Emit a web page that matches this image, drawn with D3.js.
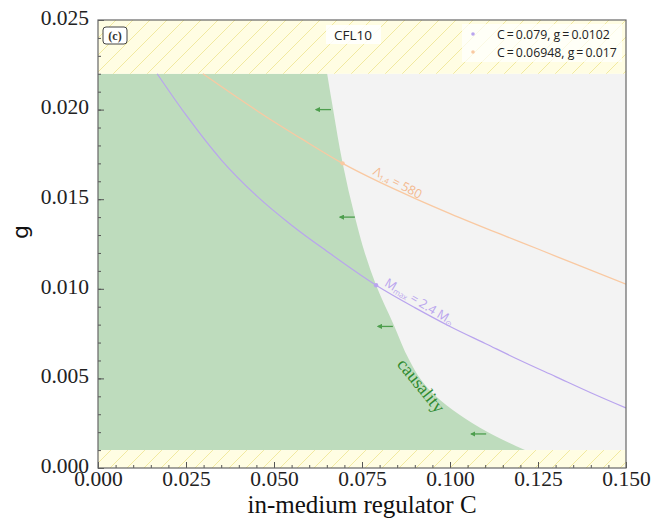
<!DOCTYPE html>
<html>
<head>
<meta charset="utf-8">
<script src="https://cdn.jsdelivr.net/npm/d3@7"></script>
<style>
  body { margin: 0; background: #fff; }
</style>
</head>
<body>
<div id="chart"></div>
<script>
// causality boundary (g -> C)
let causality_g = [0.022, 0.020, 0.017, 0.014, 0.012, 0.0102, 0.008, 0.006, 0.005, 0.004, 0.003, 0.002, 0.001];
let causality_C = [0.0651, 0.0668, 0.0695, 0.0730, 0.0758, 0.0790, 0.0840, 0.0885, 0.0915, 0.0960, 0.1025, 0.1108, 0.1213];

// M_max = 2.4 Msun curve
let mmax_C = [0.0168, 0.025, 0.035, 0.045, 0.055, 0.065, 0.079, 0.090, 0.100, 0.110, 0.120, 0.130, 0.140, 0.150];
let mmax_g = [0.0220, 0.0197, 0.0172, 0.0152, 0.01355, 0.0121, 0.0102, 0.00895, 0.0079, 0.00695, 0.0060, 0.0051, 0.0042, 0.00335];

// Lambda_1.4 = 580 curve
let lam_C = [0.0298, 0.040, 0.050, 0.0574, 0.06948, 0.080, 0.090, 0.100, 0.1142, 0.125, 0.135, 0.150];
let lam_g = [0.0220, 0.02062, 0.01932, 0.01842, 0.0170, 0.01595, 0.01505, 0.0142, 0.01306, 0.01222, 0.01143, 0.01026];

// little arrows pointing into the allowed side
let arrow_C = [0.0639, 0.0707, 0.0815, 0.1080];
let arrow_g = [0.0200, 0.0140, 0.0079, 0.0019];

// marked points (legend)
let point_C = [0.079, 0.06948];
let point_g = [0.0102, 0.017];
let point_labels = ["C\u2009=\u20090.079,  g\u2009=\u20090.0102", "C\u2009=\u20090.06948,  g\u2009=\u20090.017"];

let xticks = [0, 0.025, 0.05, 0.075, 0.1, 0.125, 0.15];
let yticks = [0, 0.005, 0.01, 0.015, 0.02, 0.025];
let band_top = [0.022, 0.025];
let band_bottom = [0, 0.001];

let w = 653;
let h = 520;
let m_left = 98, m_right = 626, m_top = 20, m_bottom = 468;

const purple = "#b9a4ee";
const orange = "#f9c9a2";
const green_fill = "#bedcbd";
const arrow_col = "#4d9e4d";
const serif = "'Liberation Serif', 'DejaVu Serif', serif";
const sans = "'Open Sans', 'DejaVu Sans', sans-serif";

const x_scale = d3.scaleLinear().domain([0, 0.15]).range([m_left, m_right]);
const y_scale = d3.scaleLinear().domain([0, 0.025]).range([m_bottom, m_top]);

const svg = d3.select("#chart")
      .append("svg")
      .attr("width", w)
      .attr("height", h);

const defs = svg.append("defs");
const hatch = defs.append("pattern")
      .attr("id", "hatch")
      .attr("patternUnits", "userSpaceOnUse")
      .attr("width", 17)
      .attr("height", 17);
hatch.append("rect").attr("width", 17).attr("height", 17).attr("fill", "#fffde3");
hatch.append("path")
  .attr("d", "M0,17 L17,0 M-4,4 L4,-4 M13,21 L21,13")
  .attr("stroke", "#f1e9a0")
  .attr("stroke-width", 1);

defs.append("clipPath").attr("id", "plotclip")
  .append("rect")
  .attr("x", m_left).attr("y", m_top)
  .attr("width", m_right - m_left).attr("height", m_bottom - m_top);

defs.append("marker")
  .attr("id", "ahead")
  .attr("viewBox", "0 0 10 10")
  .attr("refX", 8).attr("refY", 5)
  .attr("markerWidth", 4).attr("markerHeight", 4)
  .attr("orient", "auto")
  .append("path")
  .attr("d", "M0,0 L10,5 L0,10 Z")
  .attr("fill", arrow_col);

const plot = svg.append("g").attr("clip-path", "url(#plotclip)");

// grey excluded region
plot.append("rect")
  .attr("x", x_scale(0)).attr("y", y_scale(band_top[0]))
  .attr("width", x_scale(0.15) - x_scale(0))
  .attr("height", y_scale(band_bottom[1]) - y_scale(band_top[0]))
  .attr("fill", "#f3f3f3");

// green causal region, smooth edge
let causal_pts = causality_g.map((g, i) => [causality_C[i], g]);
plot.append("path")
  .datum(causal_pts)
  .attr("d", d3.area()
        .x0(d => x_scale(0))
        .x1(d => x_scale(d[0]))
        .y(d => y_scale(d[1]))
        .curve(d3.curveMonotoneY))
  .attr("fill", green_fill);

// hatched bands
[band_top, band_bottom].forEach(b => {
  plot.append("rect")
    .attr("x", x_scale(0)).attr("y", y_scale(b[1]))
    .attr("width", x_scale(0.15) - x_scale(0))
    .attr("height", y_scale(b[0]) - y_scale(b[1]))
    .attr("fill", "url(#hatch)");
});

// curves
const line = d3.line()
      .x(d => x_scale(d[0]))
      .y(d => y_scale(d[1]))
      .curve(d3.curveMonotoneX);

plot.append("path")
  .datum(lam_C.map((c, i) => [c, lam_g[i]]))
  .attr("d", line)
  .attr("fill", "none")
  .attr("stroke", orange)
  .attr("stroke-width", 1.3);

plot.append("path")
  .datum(mmax_C.map((c, i) => [c, mmax_g[i]]))
  .attr("d", line)
  .attr("fill", "none")
  .attr("stroke", purple)
  .attr("stroke-width", 1.2);

// arrows
arrow_C.forEach((c, i) => {
  plot.append("line")
    .attr("x1", x_scale(c) + 8).attr("y1", y_scale(arrow_g[i]))
    .attr("x2", x_scale(c) - 7).attr("y2", y_scale(arrow_g[i]))
    .attr("stroke", arrow_col)
    .attr("stroke-width", 1.3)
    .attr("marker-end", "url(#ahead)");
});

// marked points
let pt_cols = [purple, orange];
point_C.forEach((c, i) => {
  plot.append("circle")
    .attr("cx", x_scale(c)).attr("cy", y_scale(point_g[i]))
    .attr("r", 2.2)
    .attr("fill", pt_cols[i]);
});

// curve labels
let pl = [x_scale(0.0812), y_scale(0.0102)];
let mt = svg.append("text")
  .attr("transform", `translate(${pl[0]},${pl[1]}) rotate(31)`)
  .attr("font-family", sans)
  .attr("font-size", 12.5)
  .attr("fill", purple);
mt.append("tspan").text("M");
mt.append("tspan").text("max").attr("font-size", 7.5).attr("dy", 2);
mt.append("tspan").text(" = 2.4 M").attr("dy", -2);
mt.append("tspan").text("\u2299").attr("font-size", 7.5).attr("dy", 2);

let ol = [x_scale(0.0779), y_scale(0.0164)];
let lt = svg.append("text")
  .attr("transform", `translate(${ol[0]},${ol[1]}) rotate(28)`)
  .attr("font-family", sans)
  .attr("font-size", 12.5)
  .attr("fill", "#f4b98f");
lt.append("tspan").text("\u039B");
lt.append("tspan").text("1.4").attr("font-size", 7.5).attr("dy", 2);
lt.append("tspan").text(" = 580").attr("dy", -2);

// causality label
svg.append("text")
  .attr("transform", `translate(${x_scale(0.0918)},${y_scale(0.0046)}) rotate(51)`)
  .attr("font-family", serif)
  .attr("font-size", 18)
  .attr("fill", "#2f8a2f")
  .attr("text-anchor", "middle")
  .attr("dy", 6)
  .text("causality");

// CFL10 label with white box
svg.append("rect")
  .attr("x", 326).attr("y", 25)
  .attr("width", 55).attr("height", 19)
  .attr("fill", "#fff").attr("opacity", 0.85);
svg.append("text")
  .attr("x", 353).attr("y", 39.5)
  .attr("text-anchor", "middle")
  .attr("font-family", sans)
  .attr("font-size", 13.5)
  .attr("fill", "#222")
  .text("CFL10");

// (c) tag
svg.append("rect")
  .attr("x", 103).attr("y", 27)
  .attr("width", 24).attr("height", 17)
  .attr("rx", 3)
  .attr("fill", "#fff")
  .attr("stroke", "#444")
  .attr("stroke-width", 1);
svg.append("text")
  .attr("x", 115).attr("y", 40)
  .attr("text-anchor", "middle")
  .attr("font-family", serif)
  .attr("font-size", 12)
  .attr("font-weight", "bold")
  .attr("fill", "#333")
  .text("(c)");

// legend
svg.append("rect")
  .attr("x", 462).attr("y", 24)
  .attr("width", 160).attr("height", 38)
  .attr("fill", "#fff").attr("opacity", 0.7);
point_labels.forEach((t, i) => {
  svg.append("circle")
    .attr("cx", 473).attr("cy", 34 + i * 18)
    .attr("r", 1.8)
    .attr("fill", pt_cols[i]);
  svg.append("text")
    .attr("x", 497).attr("y", 38.5 + i * 18)
    .attr("font-family", sans)
    .attr("font-size", 12.3)
    .attr("fill", "#222")
    .text(t);
});

// axes
let x_minor = d3.range(0, 0.1501, 0.005);
let y_minor = d3.range(0, 0.02501, 0.001);

svg.append("g")
  .attr("transform", `translate(0, ${m_bottom})`)
  .call(d3.axisTop(x_scale).tickValues(x_minor).tickSize(3).tickFormat(""))
  .call(g => g.select(".domain").remove())
  .selectAll("line").attr("stroke", "#555");
svg.append("g")
  .attr("transform", `translate(${m_left}, 0)`)
  .call(d3.axisRight(y_scale).tickValues(y_minor).tickSize(3).tickFormat(""))
  .call(g => g.select(".domain").remove())
  .selectAll("line").attr("stroke", "#555");

svg.append("g")
  .attr("transform", `translate(0, ${m_bottom})`)
  .call(d3.axisBottom(x_scale).tickValues(xticks).tickSize(-6).tickPadding(3).tickFormat(d3.format(".3f")))
  .call(g => g.select(".domain").remove())
  .call(g => g.selectAll("line").attr("stroke", "#555"))
  .call(g => g.selectAll("text")
        .attr("font-family", serif)
        .attr("font-size", 21.5)
        .attr("fill", "#222"));

svg.append("g")
  .attr("transform", `translate(${m_left}, 0)`)
  .call(d3.axisLeft(y_scale).tickValues(yticks).tickSize(-6).tickPadding(9).tickFormat(d3.format(".3f")))
  .call(g => g.select(".domain").remove())
  .call(g => g.selectAll("line").attr("stroke", "#555"))
  .call(g => g.selectAll("text")
        .attr("font-family", serif)
        .attr("font-size", 21.5)
        .attr("fill", "#222")
        .attr("dy", "0.2em"));

// frame
svg.append("rect")
  .attr("x", m_left).attr("y", m_top)
  .attr("width", m_right - m_left).attr("height", m_bottom - m_top)
  .attr("fill", "none")
  .attr("stroke", "#666")
  .attr("stroke-width", 1.2);

svg.append("text")
  .attr("x", (m_left + m_right) / 2).attr("y", 513)
  .attr("text-anchor", "middle")
  .attr("font-family", serif)
  .attr("font-size", 25)
  .attr("fill", "#111")
  .text("in-medium regulator C");

svg.append("text")
  .attr("transform", `translate(28, 232) rotate(-90)`)
  .attr("text-anchor", "middle")
  .attr("font-family", "'DejaVu Sans', sans-serif")
  .attr("font-size", 22)
  .attr("fill", "#111")
  .text("g");
</script>
</body>
</html>
